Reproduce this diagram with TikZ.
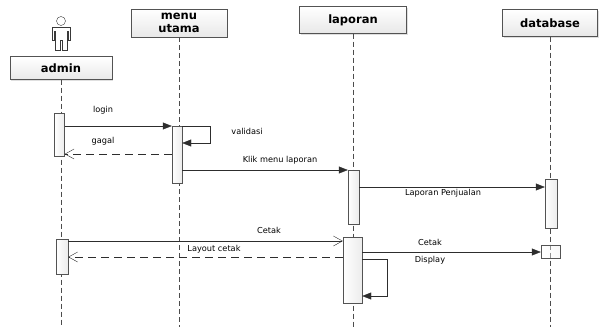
\documentclass[tikz,border=0pt]{standalone}
\usepackage{fontspec}
\setsansfont{DejaVu Sans}
\usetikzlibrary{arrows.meta,shadows}
\tikzstyle{head} = [draw=gray!65!black, top color=white, bottom color=gray!18, inner sep=0pt, drop shadow={shadow xshift=1pt, shadow yshift=-1pt, opacity=0.25}, font={\fontsize{11.5}{13}\selectfont\sffamily\bfseries}, align=center]
\tikzstyle{life} = [draw=gray!60!black, semithick, dashed, dash pattern=on 5pt off 3pt]
\tikzstyle{act} = [draw=gray!65!black, left color=white, right color=gray!15, inner sep=0pt, anchor=north]
\tikzstyle{lbl} = [font={\fontsize{8.2}{10}\selectfont\sffamily}, inner sep=1pt]
\tikzstyle{call} = [draw=gray!35!black, -{Triangle[length=9pt,width=7pt]}]
\tikzstyle{back} = [draw=gray!35!black, dashed, dash pattern=on 8pt off 5pt, -{Straight Barb[length=9pt,width=10pt]}]
\tikzstyle{open} = [draw=gray!35!black, -{Straight Barb[length=9pt,width=10pt]}]

\begin{document}
\begin{tikzpicture}[x=1pt,y=-1pt]
  \useasboundingbox (0,0) rectangle (601,327);
  \draw[gray!45!black] (61,21) circle (4.5pt);
  \draw[gray!45!black] (52,27) -- (70,27) -- (70,40) -- (68,40) -- (68,31) -- (67,31) -- (67,50) -- (62,50) -- (62,40) -- (60,40) -- (60,50) -- (55,50) -- (55,31) -- (54,31) -- (54,40) -- (52,40) -- cycle;
  \node[head, minimum width=102pt, minimum height=23pt](n0) at (61,68){admin};
  \node[head, minimum width=96pt, minimum height=28pt](n1) at (179,23){menu\\utama};
  \node[head, minimum width=107pt, minimum height=27pt](n2) at (353,20){laporan};
  \node[head, minimum width=95pt, minimum height=27pt](n3) at (550,23){database};
  \coordinate (e0) at (61,327);
  \coordinate (e1) at (179,327);
  \coordinate (e2) at (353,327);
  \coordinate (e3) at (550,327);
  \draw[life](n0.south)--(e0);
  \draw[life](n1.south)--(e1);
  \draw[life](n2.south)--(e2);
  \draw[life](n3.south)--(e3);
  \node[act, minimum width=10pt, minimum height=43pt](a1) at (59.5,113){};
  \node[act, minimum width=10pt, minimum height=57pt](m1) at (177,126){};
  \node[act, minimum width=11pt, minimum height=54pt](l1) at (353.5,170){};
  \node[act, minimum width=12pt, minimum height=49pt](d1) at (551,179){};
  \node[act, minimum width=12pt, minimum height=35pt](a2) at (62,239){};
  \node[act, minimum width=19pt, minimum height=66pt](l2) at (352.5,237){};
  \node[act, minimum width=19pt, minimum height=13pt, fill opacity=0.4](d2) at (550.5,245){};
  \draw[call]([yshift=-13pt]a1.north east)--(m1.north west);
  \draw[call](m1.north east)--++(28,0)|-([yshift=-17pt]m1.north east);
  \draw[back]([yshift=-28pt]m1.north west)--([yshift=-41pt]a1.north east);
  \draw[call]([yshift=-44pt]m1.north east)--(l1.north west);
  \draw[call]([yshift=-17pt]l1.north east)--([yshift=-8pt]d1.north west);
  \draw[open]([yshift=-2pt]a2.north east)--([yshift=-4pt]l2.north west);
  \draw[back]([yshift=-20pt]l2.north west)--([yshift=-18pt]a2.north east);
  \draw[call]([yshift=-15pt]l2.north east)--([yshift=-7pt]d2.north west);
  \draw[call]([yshift=-22pt]l2.north east)--++(25,0)|-([yshift=-59pt]l2.north east);
  \node[lbl](t0) at (103,110){login};
  \node[lbl](t1) at (247,131){validasi};
  \node[lbl](t2) at (103,141){gagal};
  \node[lbl](t3) at (280,160){Klik menu laporan};
  \node[lbl](t4) at (443,193){Laporan Penjualan};
  \node[lbl](t5) at (269,230){Cetak};
  \node[lbl](t6) at (214,249){Layout cetak};
  \node[lbl](t7) at (430,242){Cetak};
  \node[lbl](t8) at (430,260){Display};
\end{tikzpicture}
\end{document}
